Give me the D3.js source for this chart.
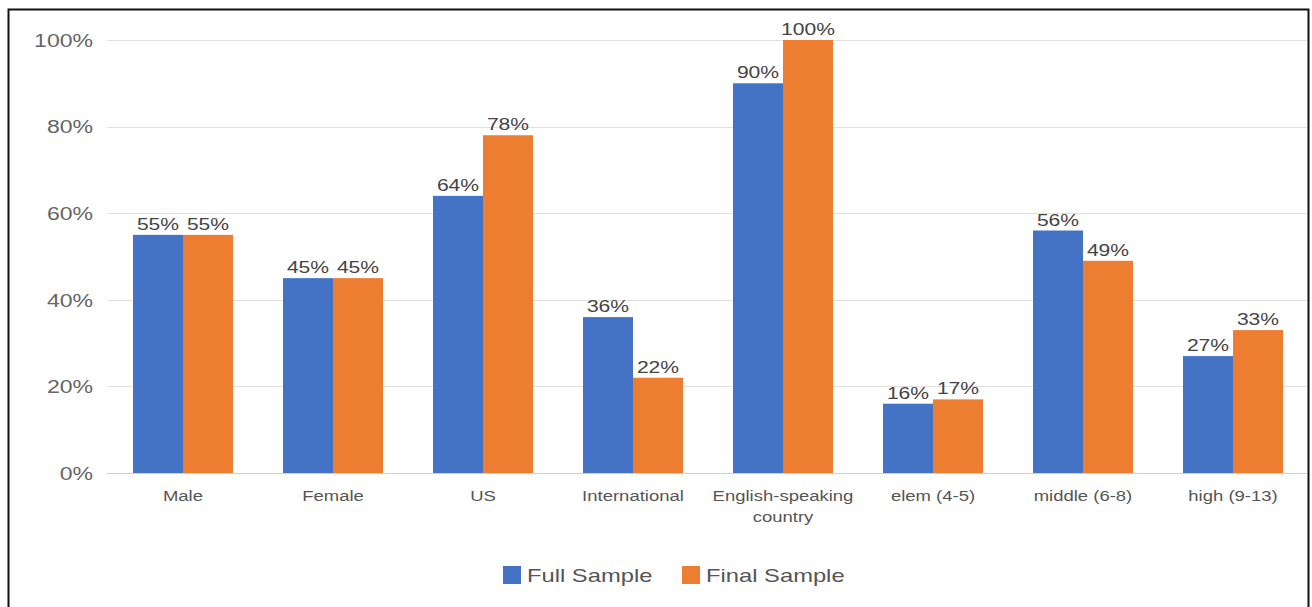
<!DOCTYPE html>
<html>
<head>
<meta charset="utf-8">
<script src="https://cdn.jsdelivr.net/npm/d3@7"></script>
<style>
  html, body { margin: 0; padding: 0; background: #fff; }
  svg { display: block; }
</style>
</head>
<body>
<svg id="chart" width="1312" height="607"></svg>
<script>
// Sample composition by category
const categories = ["Male", "Female", "US", "International", "English-speaking country", "elem (4-5)", "middle (6-8)", "high (9-13)"];
const seriesNames = ["Full Sample", "Final Sample"];
const fullSample = [55, 45, 64, 36, 90, 16, 56, 27];
const finalSample = [55, 45, 78, 22, 100, 17, 49, 33];
const yTicks = [0, 20, 40, 60, 80, 100];
const colors = ["#4472C4", "#ED7D31"];

const FONT = "Liberation Sans, Arial, sans-serif";
const svg = d3.select("#chart");

// Widen glyphs horizontally (text is drawn slightly stretched)
function stretch(sel, k) {
  sel.each(function() {
    const len = this.getComputedTextLength();
    d3.select(this).attr("textLength", len * k).attr("lengthAdjust", "spacingAndGlyphs");
  });
}

// Frame around the chart
svg.append("rect")
  .attr("x", 8.5).attr("y", 9.5)
  .attr("width", 1300).attr("height", 610)
  .attr("fill", "#fff").attr("stroke", "#111").attr("stroke-width", 2);

const x0 = d3.scaleBand().domain(categories).range([108, 1308]).paddingInner(1/3).paddingOuter(1/6);
const x1 = d3.scaleBand().domain(seriesNames).range([0, x0.bandwidth()]);
const y = d3.scaleLinear().domain([0, 100]).range([473, 40]);

// Gridlines
svg.append("g").selectAll("line").data(yTicks).join("line")
  .attr("x1", 107).attr("x2", 1307)
  .attr("y1", d => Math.round(y(d)) + 0.5).attr("y2", d => Math.round(y(d)) + 0.5)
  .attr("stroke", d => d === 0 ? "#cfcfcf" : "#e0e0e0").attr("stroke-width", 1.2);

// Y axis labels
const yAxis = d3.axisLeft(y).tickValues(yTicks).tickFormat(d => d + "%").tickSize(0).tickPadding(0);
const yg = svg.append("g").attr("transform", "translate(93,0)").call(yAxis);
yg.select(".domain").remove();
yg.selectAll("text").attr("font-family", FONT)
  .attr("font-size", 18).attr("fill", "#666").attr("dy", "0.35em");
stretch(yg.selectAll("text"), 1.28);

// Bars
const rows = categories.map((c, i) => ({ cat: c, vals: [fullSample[i], finalSample[i]] }));
const groups = svg.append("g").selectAll("g").data(rows).join("g")
  .attr("transform", d => `translate(${x0(d.cat)},0)`);

groups.selectAll("rect").data(d => d.vals.map((v, j) => ({ s: seriesNames[j], v, j }))).join("rect")
  .attr("x", d => x1(d.s)).attr("width", x1.bandwidth())
  .attr("y", d => y(d.v)).attr("height", d => y(0) - y(d.v))
  .attr("fill", d => colors[d.j]);

// Value labels
const vl = groups.selectAll("text").data(d => d.vals.map((v, j) => ({ s: seriesNames[j], v, j }))).join("text")
  .attr("x", d => x1(d.s) + x1.bandwidth() / 2)
  .attr("y", d => y(d.v) - 5)
  .attr("text-anchor", "middle")
  .attr("font-family", FONT)
  .attr("font-size", 17).attr("fill", "#444")
  .text(d => d.v + "%");
stretch(vl, 1.24);

// Category labels (wrapped)
const xLabelLines = {
  "English-speaking country": ["English-speaking", "country"]
};
const xl = svg.append("g").selectAll("text").data(categories).join("text")
  .attr("x", d => x0(d) + x0.bandwidth() / 2)
  .attr("y", 501)
  .attr("text-anchor", "middle")
  .attr("font-family", FONT)
  .attr("font-size", 14).attr("fill", "#555");
xl.each(function(d) {
  const lines = xLabelLines[d] || [d];
  const t = d3.select(this);
  lines.forEach((ln, i) => {
    t.append("tspan").attr("x", x0(d) + x0.bandwidth() / 2).attr("dy", i === 0 ? 0 : 21).text(ln);
  });
});
stretch(xl.selectAll("tspan"), 1.32);

// Legend
const legendItems = [
  { name: seriesNames[0], color: colors[0], x: 503 },
  { name: seriesNames[1], color: colors[1], x: 682 }
];
const lg = svg.append("g").selectAll("g").data(legendItems).join("g")
  .attr("transform", d => `translate(${d.x},566)`);
lg.append("rect").attr("width", 18).attr("height", 18).attr("fill", d => d.color);
const lt = lg.append("text").attr("x", 24).attr("y", 16)
  .attr("font-family", FONT)
  .attr("font-size", 19).attr("fill", "#555")
  .text(d => d.name);
stretch(lt, 1.25);
</script>
</body>
</html>
